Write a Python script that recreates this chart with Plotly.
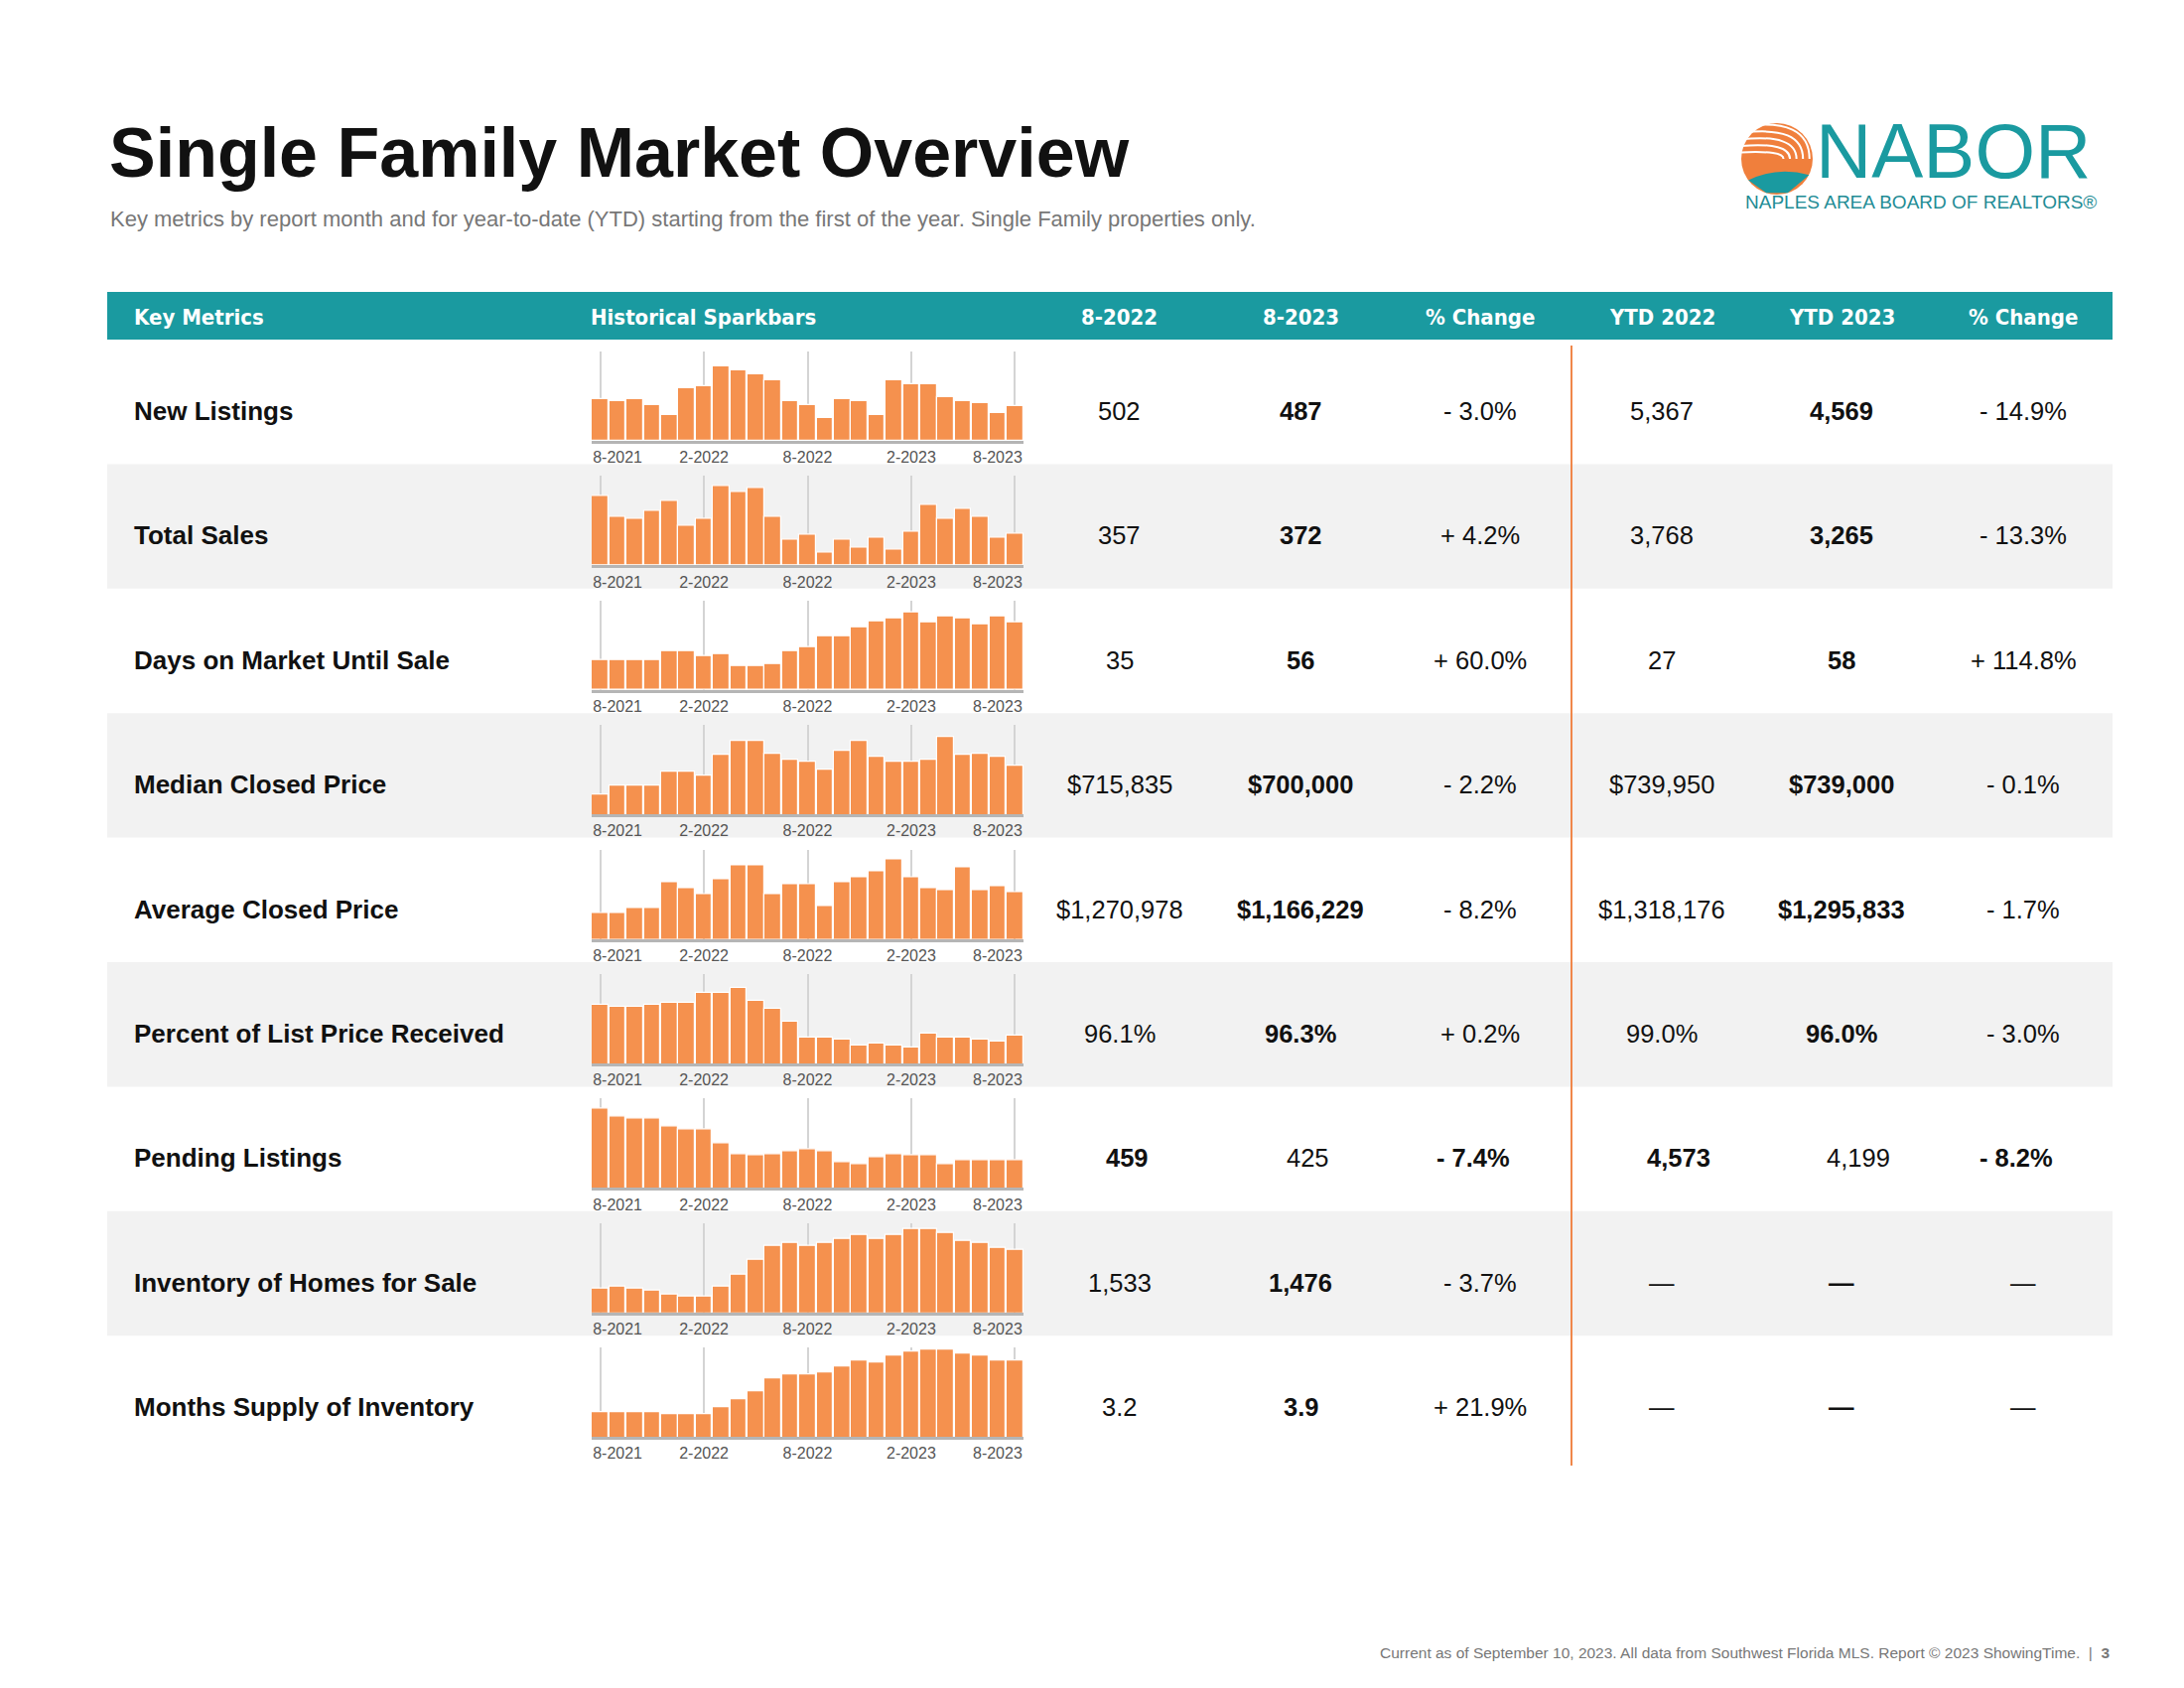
import plotly.graph_objects as go

W, H = 2200, 1700

metrics = ["New Listings", "Total Sales", "Days on Market Until Sale", "Median Closed Price",
           "Average Closed Price", "Percent of List Price Received", "Pending Listings",
           "Inventory of Homes for Sale", "Months Supply of Inventory"]
col_8_2022 = ["502", "357", "35", "$715,835", "$1,270,978", "96.1%", "459", "1,533", "3.2"]
col_8_2023 = ["487", "372", "56", "$700,000", "$1,166,229", "96.3%", "425", "1,476", "3.9"]
col_chg = ["- 3.0%", "+ 4.2%", "+ 60.0%", "- 2.2%", "- 8.2%", "+ 0.2%", "- 7.4%", "- 3.7%", "+ 21.9%"]
col_ytd22 = ["5,367", "3,768", "27", "$739,950", "$1,318,176", "99.0%", "4,573", "—", "—"]
col_ytd23 = ["4,569", "3,265", "58", "$739,000", "$1,295,833", "96.0%", "4,199", "—", "—"]
col_ytdchg = ["- 14.9%", "- 13.3%", "+ 114.8%", "- 0.1%", "- 1.7%", "- 3.0%", "- 8.2%", "—", "—"]

months = ["8-2021", "9-2021", "10-2021", "11-2021", "12-2021", "1-2022", "2-2022", "3-2022",
          "4-2022", "5-2022", "6-2022", "7-2022", "8-2022", "9-2022", "10-2022", "11-2022",
          "12-2022", "1-2023", "2-2023", "3-2023", "4-2023", "5-2023", "6-2023", "7-2023", "8-2023"]
tick_labels = ["8-2021", "2-2022", "8-2022", "2-2023", "8-2023"]

new_listings = [586, 557, 586, 499, 355, 730, 758, 1046, 989, 931, 845, 557, 502,
                326, 586, 557, 355, 845, 787, 787, 614, 557, 528, 384, 487]
total_sales = [804, 564, 540, 636, 756, 468, 540, 924, 852, 900, 564, 300, 357,
               156, 300, 204, 324, 180, 396, 708, 540, 660, 564, 324, 372]
days_on_market = [25, 25, 25, 25, 32, 32, 28, 30, 20, 20, 21, 32, 35,
                  44, 44, 52, 57, 59, 64, 56, 61, 59, 54, 61, 56]
median_price_k = [589, 621, 621, 621, 676, 676, 660, 740, 795, 795, 747, 724, 716,
                  684, 755, 795, 732, 716, 716, 724, 811, 740, 747, 732, 700]
average_price_k = [904, 904, 957, 957, 1297, 1219, 1140, 1323, 1507, 1507, 1140, 1271, 1271,
                   983, 1297, 1350, 1428, 1585, 1350, 1219, 1192, 1480, 1192, 1245, 1166]
pct_list_price = [99.3, 99.1, 99.1, 99.3, 99.5, 99.5, 100.5, 100.5, 100.9, 99.7, 98.9, 97.7, 96.1,
                  96.1, 95.9, 95.3, 95.5, 95.3, 95.1, 96.5, 96.1, 96.1, 95.9, 95.7, 96.3]
pending = [595, 568, 561, 561, 534, 527, 527, 479, 445, 439, 445, 452, 459,
           452, 418, 411, 432, 445, 439, 439, 411, 425, 425, 425, 425]
inventory = [935, 963, 935, 906, 849, 821, 821, 963, 1134, 1334, 1533, 1562, 1533,
             1562, 1619, 1676, 1619, 1676, 1761, 1761, 1704, 1590, 1562, 1505, 1476]
months_supply = [1.4, 1.4, 1.4, 1.4, 1.3, 1.3, 1.3, 1.6, 2.0, 2.4, 3.0, 3.2, 3.2,
                 3.3, 3.6, 3.9, 3.8, 4.1, 4.3, 4.4, 4.4, 4.2, 4.1, 3.9, 3.9]

series = [new_listings, total_sales, days_on_market, median_price_k, average_price_k,
          pct_list_price, pending, inventory, months_supply]
# sparkbar axes don't start at zero
y_ranges = [[0, 1250], [0, 1040], [0, 74], [512, 856], [572, 1707],
            [93.6, 102.3], [332, 627], [607, 1842], [0.18, 4.5]]

TEAL = "#1a9aa0"
ORANGE = "#f5914e"
FONT = "Liberation Sans"
NARROW = "DejaVu Sans Condensed"


def px(x):
    return x / W


def py(y):
    return 1 - y / H


fig = go.Figure()
shapes = []
ann = []


def text(x, y, s, size=25, color="#111", bold=False, xanchor="center", family=FONT):
    if bold:
        s = "<b>" + s + "</b>"
    ann.append(dict(x=px(x), y=py(y), xref="paper", yref="paper", text=s, showarrow=False,
                    xanchor=xanchor, yanchor="middle",
                    font=dict(family=family, size=size, color=color)))


# title block
text(100, 146, "Single Family Market Overview", size=70, bold=True, xanchor="left")
text(101, 212, "Key metrics by report month and for year-to-date (YTD) starting from the first of the year. "
     "Single Family properties only.", size=22, color="#777", xanchor="left")

# logo
cx, cy, r = 1782, 152, 36
shapes.append(dict(type="circle", xref="paper", yref="paper", x0=px(cx - r), x1=px(cx + r),
                   y0=py(cy + r), y1=py(cy - r), fillcolor="#f07f3c", line=dict(width=0)))
for k in range(1, 6):
    rr = r * k / 5.5
    shapes.append(dict(type="path", xref="paper", yref="paper",
                       path=f"M {px(cx + rr)} {py(cy)} Q {px(cx + rr)} {py(cy - rr * 1.3)} {px(cx - r)} {py(cy - rr)}",
                       line=dict(color="white", width=2)))
shapes.append(dict(type="path", xref="paper", yref="paper",
                   path=f"M {px(cx - r * 0.8)} {py(cy + r * 0.6)} Q {px(cx)} {py(cy + r * 0.2)} {px(cx + r * 0.9)} {py(cy + r * 0.45)} "
                        f"L {px(cx + r * 0.3)} {py(cy + r * 0.95)} L {px(cx - r * 0.3)} {py(cy + r * 0.95)} Z",
                   fillcolor=TEAL, line=dict(width=0)))
text(1819, 144, "NABOR", size=78, color=TEAL, xanchor="left")
text(1748, 195, "NAPLES AREA BOARD OF REALTORS®", size=19, color="#1f8c95", xanchor="left")

# header bar
shapes.append(dict(type="rect", xref="paper", yref="paper", x0=px(100), x1=px(2120),
                   y0=py(334), y1=py(286), fillcolor=TEAL, line=dict(width=0)))
hy = 311
text(125, hy, "Key Metrics", size=22, color="white", bold=True, xanchor="left", family=NARROW)
text(585, hy, "Historical Sparkbars", size=22, color="white", bold=True, xanchor="left", family=NARROW)
col_x = [1120, 1302, 1483, 1666, 1847, 2030]
for x, h in zip(col_x, ["8-2022", "8-2023", "% Change", "YTD 2022", "YTD 2023", "% Change"]):
    text(x, hy, h, size=22, color="white", bold=True, family=NARROW)

row_top, row_h = 334, 125.4
for i, name in enumerate(metrics):
    top = row_top + i * row_h
    if i % 2 == 1:
        shapes.append(dict(type="rect", xref="paper", yref="paper", layer="below",
                           x0=px(100), x1=px(2120), y0=py(top + row_h), y1=py(top),
                           fillcolor="#f2f2f2", line=dict(width=0)))
    cyr = top + 72
    text(125, cyr, name, size=26, bold=True, xanchor="left")
    vals = [col_8_2022[i], col_8_2023[i], col_chg[i], col_ytd22[i], col_ytd23[i], col_ytdchg[i]]
    if name == "Pending Listings":
        bold = [True, False, True, True, False, True]
        offs = [7, 7, -7, 17, 17, -7]
    else:
        bold = [False, True, False, False, True, False]
        offs = [0] * 6
    for x, v, b, o in zip(col_x, vals, bold, offs):
        if v == "—" and b:
            v = "<span style='font-weight:900'>—</span>"
        text(x + o, cyr, v, size=25.5, bold=b)

    # sparkbar subplot: gridlines on the months, labels nudged inward like the original
    n = i + 1
    ax = "" if n == 1 else str(n)
    fig.add_trace(go.Bar(x=list(range(len(months))), y=series[i], hovertext=months,
                         marker=dict(color=ORANGE, line=dict(color="white", width=1.2)),
                         xaxis="x" + ax, yaxis="y" + ax, showlegend=False, width=0.96))
    fig.layout["xaxis" + ax] = dict(
        domain=[px(588), px(1023)], range=[-0.5, 24.5], anchor="y" + ax,
        tickmode="array", tickvals=[1, 6, 12, 18, 23], ticktext=tick_labels, showgrid=False,
        minor=dict(tickmode="array", tickvals=[0, 6, 12, 18, 24], showgrid=True,
                   gridcolor="#d4d4d4", gridwidth=2, ticks=""),
        showline=True, linecolor="#b5b5b5", linewidth=3,
        ticks="", tickfont=dict(family=FONT, size=16, color="#555"), zeroline=False,
        fixedrange=True)
    fig.layout["yaxis" + ax] = dict(
        domain=[py(top + 102), py(top + 12)], range=y_ranges[i], anchor="x" + ax,
        showgrid=False, showticklabels=False, zeroline=False, fixedrange=True)

# separator line between month and YTD columns
shapes.append(dict(type="line", xref="paper", yref="paper", x0=px(1575), x1=px(1575),
                   y0=py(340), y1=py(1468), line=dict(color="#f0874a", width=2)))

text(2120, 1656, "Current as of September 10, 2023. All data from Southwest Florida MLS. "
     "Report © 2023 ShowingTime.  |  <b>3</b>", size=15.5, color="#777", xanchor="right")

fig.update_layout(width=W, height=H, margin=dict(l=0, r=0, t=0, b=0),
                  paper_bgcolor="white", plot_bgcolor="rgba(0,0,0,0)",
                  shapes=shapes, annotations=ann, bargap=0)
fig.write_html("out.html")
